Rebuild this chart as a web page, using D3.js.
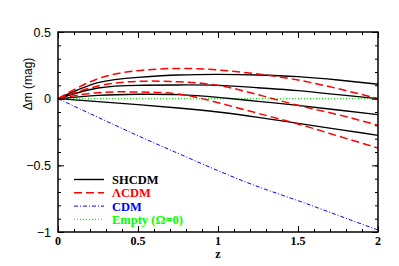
<!DOCTYPE html>
<html lang="en">
<head>
<meta charset="UTF-8">
<title>Delta m vs z</title>
<script src="https://cdn.jsdelivr.net/npm/d3@7"></script>
<style>
  body { margin: 0; background: #fff; }
  svg { display: block; }
</style>
</head>
<body>
<script>
    // redshift grid the curves were read at
    var zs = [0, 0.25, 0.5, 0.75, 1, 1.25, 1.5, 1.75, 2];

    // SHCDM (four parameter choices)
    var shcdm1 = [0, 0.12, 0.16, 0.177, 0.182, 0.178, 0.165, 0.14, 0.108];
    var shcdm2 = [0, 0.08, 0.1, 0.103, 0.1, 0.082, 0.06, 0.03, 0.0];
    var shcdm3 = [0, 0.025, 0.033, 0.03, 0.01, -0.02, -0.05, -0.085, -0.12];
    var shcdm4 = [0, -0.022, -0.045, -0.07, -0.1, -0.14, -0.185, -0.23, -0.275];

    // LambdaCDM (three parameter choices)
    var lcdm1 = [0, 0.15, 0.21, 0.227, 0.215, 0.185, 0.14, 0.075, 0.0];
    var lcdm2 = [0, 0.095, 0.13, 0.127, 0.1, 0.03, -0.05, -0.12, -0.2];
    var lcdm3 = [0, 0.045, 0.05, 0.035, -0.03, -0.11, -0.19, -0.28, -0.37];

    var cdm = [0, -0.14, -0.278, -0.41, -0.54, -0.66, -0.765, -0.875, -0.985];
    var empty = [0, 0, 0, 0, 0, 0, 0, 0, 0];

    var xTicks = [0, 0.5, 1, 1.5, 2];
    var yTicks = [-1, -0.5, 0, 0.5];
    var legendNames = ["SHCDM", "\u039bCDM", "CDM", "Empty (\u03a9=0)"];

    var w = 399, h = 266;
    var pL = 58, pR = 378, pT = 32, pB = 232;

    var svg = d3.select("body").append("svg")
        .attr("width", w)
        .attr("height", h);

    var x = d3.scaleLinear().domain([0, 2]).range([pL, pR]);
    var y = d3.scaleLinear().domain([-1, 0.5]).range([pB, pT]);

    var styles = {
        shcdm: { color: "#000", width: 1.4, dash: null },
        lcdm: { color: "#ff0000", width: 1.5, dash: "8,4" },
        cdm: { color: "#0000ff", width: 1, dash: "4,2,1,2" },
        empty: { color: "#00ff00", width: 1.2, dash: "1,2" }
    };

    var series = [
        { s: "empty", v: empty },
        { s: "cdm", v: cdm },
        { s: "shcdm", v: shcdm1 }, { s: "shcdm", v: shcdm2 },
        { s: "shcdm", v: shcdm3 }, { s: "shcdm", v: shcdm4 },
        { s: "lcdm", v: lcdm1 }, { s: "lcdm", v: lcdm2 }, { s: "lcdm", v: lcdm3 }
    ];

    var line = d3.line()
        .x(function(d, i) { return x(zs[i]); })
        .y(function(d) { return y(d); })
        .curve(d3.curveNatural);

    svg.append("defs").append("clipPath").attr("id", "clip")
        .append("rect")
        .attr("x", pL).attr("y", pT)
        .attr("width", pR - pL).attr("height", pB - pT);

    svg.append("g").attr("clip-path", "url(#clip)")
        .selectAll("path")
        .data(series)
        .enter()
        .append("path")
        .attr("d", function(d) { return line(d.v); })
        .attr("fill", "none")
        .attr("stroke", function(d) { return styles[d.s].color; })
        .attr("stroke-width", function(d) { return styles[d.s].width; })
        .attr("stroke-dasharray", function(d) { return styles[d.s].dash; });

    // axes with inward ticks on all four sides
    var xMinor = d3.range(0, 2.001, 0.1);
    var yMinor = d3.range(-1, 0.501, 0.1);

    function tickAxis(axisFn, scale, vals, size) {
        return axisFn(scale).tickValues(vals).tickSize(size).tickFormat("");
    }

    var axes = [
        [d3.axisTop, x, xMinor, 3, "translate(0," + pB + ")"],
        [d3.axisTop, x, xTicks, 6, "translate(0," + pB + ")"],
        [d3.axisBottom, x, xMinor, 3, "translate(0," + pT + ")"],
        [d3.axisBottom, x, xTicks, 6, "translate(0," + pT + ")"],
        [d3.axisRight, y, yMinor, 3, "translate(" + pL + ",0)"],
        [d3.axisRight, y, yTicks, 6, "translate(" + pL + ",0)"],
        [d3.axisLeft, y, yMinor, 3, "translate(" + pR + ",0)"],
        [d3.axisLeft, y, yTicks, 6, "translate(" + pR + ",0)"]
    ];
    axes.forEach(function(a) {
        var g = svg.append("g")
            .attr("transform", a[4])
            .call(tickAxis(a[0], a[1], a[2], a[3]));
        g.select(".domain").remove();
        g.selectAll("line").attr("stroke", "#000").attr("stroke-width", 1);
    });

    svg.append("rect")
        .attr("x", pL).attr("y", pT)
        .attr("width", pR - pL).attr("height", pB - pT)
        .attr("fill", "none")
        .attr("stroke", "#000")
        .attr("stroke-width", 1.5);

    // tick labels
    svg.append("g").selectAll("text")
        .data(xTicks)
        .enter()
        .append("text")
        .attr("x", function(d) { return x(d); })
        .attr("y", 245)
        .attr("text-anchor", "middle")
        .style("font-family", "'Liberation Serif', serif")
        .style("font-weight", "bold")
        .style("font-size", "12px")
        .text(function(d) { return d3.format("")(d); });

    svg.append("g").selectAll("text")
        .data(yTicks)
        .enter()
        .append("text")
        .attr("x", 51)
        .attr("y", function(d) { return y(d) + 4.5; })
        .attr("text-anchor", "end")
        .style("font-family", "'Liberation Sans', sans-serif")
        .style("font-size", "12.5px")
        .text(function(d) { return d < 0 ? "\u2212" + Math.abs(d) : d; });

    svg.append("text")
        .attr("x", x(1))
        .attr("y", 258)
        .attr("text-anchor", "middle")
        .style("font-family", "'Liberation Serif', serif")
        .style("font-weight", "bold")
        .style("font-size", "12px")
        .text("z");

    svg.append("text")
        .attr("transform", "translate(32,84) rotate(-90)")
        .attr("text-anchor", "middle")
        .style("font-family", "'Liberation Sans', sans-serif")
        .style("font-size", "12px")
        .text("\u0394m  (mag)");

    // legend
    var legendKeys = ["shcdm", "lcdm", "cdm", "empty"];
    var lg = svg.append("g").selectAll("g")
        .data(legendKeys)
        .enter()
        .append("g")
        .attr("transform", function(d, i) { return "translate(0," + (179.5 + i * 13.3) + ")"; });

    lg.append("line")
        .attr("x1", 74).attr("x2", 104)
        .attr("stroke", function(d) { return styles[d].color; })
        .attr("stroke-width", function(d) { return styles[d].width; })
        .attr("stroke-dasharray", function(d) { return styles[d].dash; });

    lg.append("text")
        .attr("x", 112)
        .attr("y", 4.5)
        .attr("fill", function(d) { return styles[d].color; })
        .style("font-family", "'Liberation Serif', serif")
        .style("font-weight", "bold")
        .style("font-size", "12.5px")
        .text(function(d, i) { return legendNames[i]; });
</script>
</body>
</html>
